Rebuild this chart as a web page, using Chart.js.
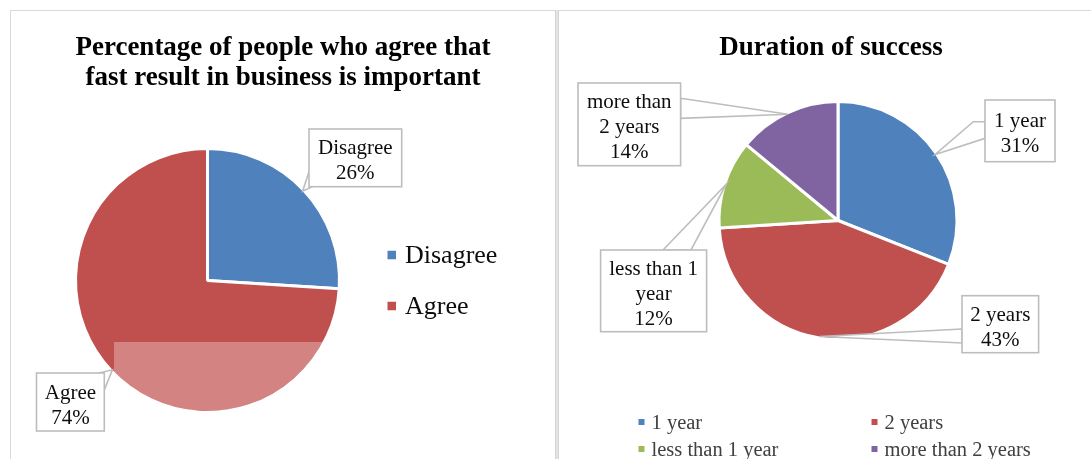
<!DOCTYPE html>
<html>
<head>
<meta charset="utf-8">
<title>Business survey</title>
<script src="https://cdn.jsdelivr.net/npm/chart.js@4.4.1/dist/chart.umd.min.js"></script>
<style>
  html, body { margin: 0; padding: 0; background: #fff; }
  #page { position: relative; width: 1091px; height: 459px; overflow: hidden; background: #fff; }
  #page canvas { position: absolute; left: 0; top: 0; }
  .rule { position: absolute; background: #d9d9d9; }
  .divider { position: absolute; left: 555px; top: 10px; width: 4px; height: 449px;
             background: #e4e4e4; border-left: 1px solid #d4d4d4; border-right: 1px solid #d4d4d4;
             box-sizing: border-box; }
</style>
</head>
<body>
<div id="page">
  <div class="rule" style="left:10px;top:10px;width:1081px;height:1px"></div>
  <div class="rule" style="left:10px;top:10px;width:1px;height:449px"></div>
  <div class="divider"></div>
  <canvas id="agreeChart" width="1091" height="459"></canvas>
  <canvas id="durationChart" width="1091" height="459"></canvas>
</div>
<script>
// ---- data ----
const agreeTitle = ['Percentage of people who agree that', 'fast result in business is important'];
const agreeLabels = ['Disagree', 'Agree'];
const agreeValues = [26, 74];

const durationTitle = ['Duration of success'];
const durationLabels = ['1 year', '2 years', 'less than 1 year', 'more than 2 years'];
const durationValues = [31, 43, 12, 14];

// ---- styling ----
const PALETTE = ['#4F81BD', '#C0504D', '#9BBB59', '#8064A2'];
const SERIF = '"Liberation Serif", "Times New Roman", serif';
const SLICE_GAP = 3;

function wrapText(ctx, text, maxWidth) {
  const words = text.split(' ');
  const lines = [];
  let cur = '';
  for (const w of words) {
    const t = cur ? cur + ' ' + w : w;
    if (!cur || ctx.measureText(t).width <= maxWidth) cur = t;
    else { lines.push(cur); cur = w; }
  }
  if (cur) lines.push(cur);
  return lines;
}

// Titles, legend, callout labels and the pale band, drawn over the pie.
const panelPlugin = {
  id: 'panel',
  afterDatasetsDraw(chart, args, opts) {
    const ctx = chart.ctx;
    const meta = chart.getDatasetMeta(0);
    const ds = chart.data.datasets[0];
    const arcs = meta.data.map(a => a.getProps(['x', 'y', 'startAngle', 'endAngle', 'outerRadius'], true));
    const edge = arcs[0].outerRadius - SLICE_GAP / 2;
    ctx.save();

    // pale band over the lower part of the pie
    if (opts.band) {
      const a = arcs[0];
      ctx.save();
      ctx.beginPath();
      ctx.arc(a.x, a.y, edge, 0, Math.PI * 2);
      ctx.clip();
      ctx.fillStyle = opts.band.color;
      ctx.fillRect(opts.band.left, opts.band.top, a.x + edge - opts.band.left + 2, a.y + edge - opts.band.top + 2);
      ctx.restore();
    }

    // callout labels with pointers to each slice's middle
    ctx.font = opts.callout.font;
    ctx.textAlign = 'center';
    ctx.textBaseline = 'alphabetic';
    opts.callouts.forEach((c, i) => {
      const a = arcs[i];
      const mid = (a.startAngle + a.endAngle) / 2;
      const tip = [a.x + Math.cos(mid) * edge, a.y + Math.sin(mid) * edge];
      const [bx, by, bw, bh] = c.box;
      ctx.lineWidth = opts.callout.lineWidth;
      ctx.strokeStyle = opts.callout.stroke;
      ctx.fillStyle = '#fff';
      ctx.beginPath();
      ctx.moveTo(c.base[0][0], c.base[0][1]);
      if (c.bend) ctx.lineTo(c.bend[0], c.bend[1]);
      ctx.lineTo(tip[0], tip[1]);
      ctx.lineTo(c.base[1][0], c.base[1][1]);
      ctx.closePath();
      ctx.fill();
      ctx.stroke();
      ctx.fillRect(bx, by, bw, bh);
      ctx.strokeRect(bx, by, bw, bh);

      const lines = wrapText(ctx, chart.data.labels[i], bw - 10).concat([ds.data[i] + '%']);
      const lh = opts.callout.lineHeight;
      const cy = by + bh / 2;
      ctx.fillStyle = opts.callout.color;
      lines.forEach((ln, k) => {
        ctx.fillText(ln, bx + bw / 2, cy + (k - (lines.length - 1) / 2) * lh + opts.callout.baseShift);
      });
    });

    // legend
    const lg = opts.legend;
    ctx.textAlign = 'left';
    ctx.font = lg.font;
    chart.data.labels.forEach((label, i) => {
      const col = i % lg.columns;
      const row = Math.floor(i / lg.columns);
      const sx = lg.swatchX[col];
      const sy = lg.rowY[row];
      ctx.fillStyle = ds.backgroundColor[i];
      ctx.fillRect(sx, sy - lg.size / 2, lg.size, lg.size);
      ctx.fillStyle = lg.color;
      ctx.fillText(label, sx + lg.textDx, sy + lg.baseShift);
    });

    // title
    const t = opts.title;
    ctx.font = t.font;
    ctx.textAlign = 'center';
    ctx.fillStyle = '#000';
    t.lines.forEach((ln, k) => ctx.fillText(ln, t.x, t.baseline + k * t.lineHeight));

    ctx.restore();
  }
};

function pieOptions(center, panel) {
  const half = 150;
  return {
    responsive: false,
    animation: false,
    devicePixelRatio: 1,
    events: [],
    layout: {
      padding: {
        left: center[0] - half,
        right: 1091 - center[0] - half,
        top: center[1] - half,
        bottom: 459 - center[1] - half
      }
    },
    plugins: {
      legend: { display: false },
      title: { display: false },
      tooltip: { enabled: false },
      panel
    }
  };
}

const calloutStyle = { font: '21px ' + SERIF, color: '#0d0d0d', stroke: '#bdbdbd', lineWidth: 1.6, lineHeight: 25, baseShift: 9 };
const titleFont = 'bold 27px ' + SERIF;

new Chart(document.getElementById('agreeChart'), {
  type: 'pie',
  data: {
    labels: agreeLabels,
    datasets: [{
      data: agreeValues,
      backgroundColor: [PALETTE[0], PALETTE[1]],
      borderColor: '#ffffff',
      borderWidth: SLICE_GAP,
      radius: 130.5 + SLICE_GAP / 2
    }]
  },
  options: pieOptions([207.5, 280.5], {
    title: { lines: agreeTitle, x: 283, baseline: 55, lineHeight: 29.5, font: titleFont },
    legend: { font: '26px ' + SERIF, color: '#0d0d0d', size: 8.5, columns: 1, swatchX: [387.5], rowY: [255, 306], textDx: 17.5, baseShift: 8.3 },
    band: { left: 114, top: 342, color: 'rgba(255,255,255,0.3)' },
    callout: calloutStyle,
    callouts: [
      { box: [309, 129, 92.7, 57.7], base: [[309, 171.7], [312, 186.7]] },
      { box: [36.5, 373, 67.8, 58], base: [[99, 373], [104.3, 390]] }
    ]
  }),
  plugins: [panelPlugin]
});

new Chart(document.getElementById('durationChart'), {
  type: 'pie',
  data: {
    labels: durationLabels,
    datasets: [{
      data: durationValues,
      backgroundColor: PALETTE,
      borderColor: '#ffffff',
      borderWidth: SLICE_GAP,
      radius: 117.5 + SLICE_GAP / 2
    }]
  },
  options: pieOptions([838, 220.5], {
    title: { lines: durationTitle, x: 831, baseline: 55, lineHeight: 29.5, font: titleFont },
    legend: { font: '20.5px ' + SERIF, color: '#404040', size: 6, columns: 2, swatchX: [638.5, 871.5], rowY: [422, 449], textDx: 13, baseShift: 6.5 },
    callout: calloutStyle,
    callouts: [
      { box: [985, 100, 70, 61.7], base: [[985, 121.7], [985, 138.3]], bend: [973.3, 121.7] },
      { box: [962, 295.7, 76.6, 57], base: [[962, 329], [962, 343]] },
      { box: [600.6, 250, 106, 81.7], base: [[663, 250], [691, 250]] },
      { box: [578, 83, 102.6, 82.7], base: [[680.6, 98.3], [680.6, 118.3]] }
    ]
  }),
  plugins: [panelPlugin]
});
</script>
</body>
</html>
